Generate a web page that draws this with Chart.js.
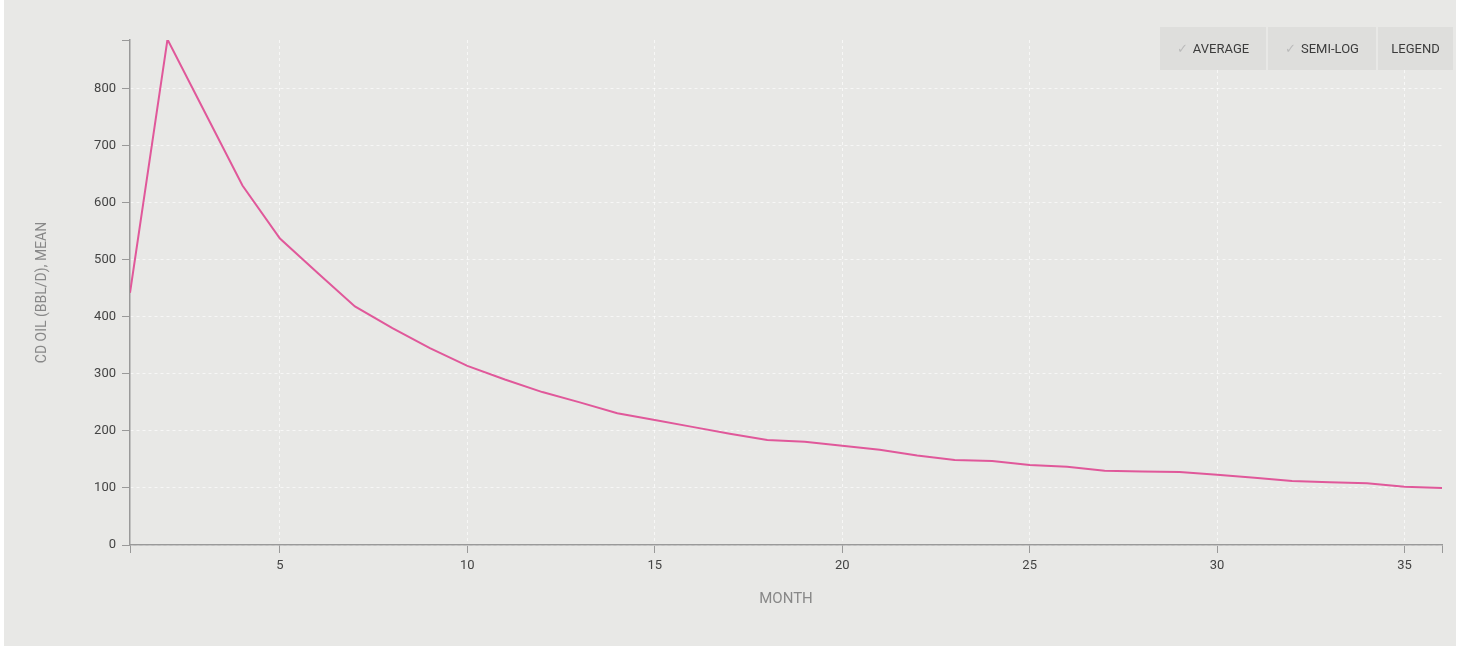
<!DOCTYPE html>
<html>
<head>
<meta charset="utf-8">
<script src="https://cdn.jsdelivr.net/npm/chart.js@4/dist/chart.umd.min.js"></script>
<style>
    body { margin: 0; background: #ffffff; font-family: Roboto, "Open Sans", sans-serif; }
    #wrap { position: absolute; left: 4px; top: 0; width: 1452px; height: 646px; background: #e8e8e6; }
    #chart-box { position: absolute; left: -4px; top: 0; width: 1461px; height: 652px; }
    #toolbar { position: absolute; left: 1156px; top: 27px; height: 43px; display: flex; }
    #toolbar div { display: flex; align-items: center; justify-content: center; font-size: 13px; color: #3c3c3c;
                   background: #dededc; margin-right: 2px; box-sizing: border-box; }
    #toolbar span { color: #bbb; margin-right: 5px; }
</style>
</head>
<body>
<div id="wrap">
    <div id="chart-box"><canvas id="oil-chart"></canvas></div>
    <div id="toolbar">
        <div style="width:106px"><span>&#10003;</span>AVERAGE</div>
        <div style="width:108px"><span>&#10003;</span>SEMI-LOG</div>
        <div style="width:75px">LEGEND</div>
    </div>
</div>
<script>
// Monthly mean oil rate
const months = [1, 2, 3, 4, 5, 6, 7, 8, 9, 10, 11, 12, 13, 14, 15, 16, 17, 18,
    19, 20, 21, 22, 23, 24, 25, 26, 27, 28, 29, 30, 31, 32, 33, 34, 35, 36];
const oilMean = [442, 886, 758, 630, 537, 477, 418, 380, 345, 314, 290, 268,
    250, 231, 219, 207, 195, 184, 181, 174, 167, 157, 149, 147,
    140, 137, 130, 129, 128, 123, 118, 112, 110, 108, 102, 100];
const xTicks = [1, 5, 10, 15, 20, 25, 30, 35, 36];
const yTicks = [0, 100, 200, 300, 400, 500, 600, 700, 800, 885];
const xEdge = [1, 36];
const yEdge = [885];

function initChart() {
    const ctx = document.getElementById('oil-chart').getContext('2d');
    new Chart(ctx, {
        type: 'line',
        data: {
            datasets: [{
                label: 'CD Oil (BBL/D), Mean',
                data: months.map((m, i) => ({ x: m, y: oilMean[i] })),
                borderColor: '#e0589a',
                borderWidth: 2,
                pointRadius: 0,
                tension: 0,
                fill: false
            }]
        },
        options: {
            responsive: false,
            animation: false,
            layout: { padding: { top: 40, right: 19, left: 0, bottom: 0 } },
            plugins: { legend: { display: false }, tooltip: { enabled: false } },
            scales: {
                x: {
                    type: 'linear',
                    min: 1,
                    max: 36,
                    afterBuildTicks: (s) => { s.ticks = xTicks.map(v => ({ value: v })); },
                    afterFit: (s) => { s.height = 107; },
                    ticks: {
                        color: '#444',
                        font: { family: 'Roboto', size: 13 },
                        padding: 5,
                        maxRotation: 0,
                        autoSkip: false,
                        callback: (v) => xEdge.includes(v) ? '' : v
                    },
                    grid: {
                        color: (c) => xEdge.includes(c.tick && c.tick.value) ? 'rgba(0,0,0,0)' : 'rgba(255,255,255,0.65)',
                        tickColor: '#999',
                        tickLength: 8,
                        lineWidth: 1
                    },
                    border: { color: '#999', width: 1.5, dash: [3, 3] },
                    title: {
                        display: true,
                        text: 'MONTH',
                        color: '#888',
                        font: { family: 'Roboto', size: 15 },
                        padding: { top: 0, bottom: 44 }
                    }
                },
                y: {
                    min: 0,
                    max: 885,
                    afterBuildTicks: (s) => { s.ticks = yTicks.map(v => ({ value: v })); },
                    afterFit: (s) => { s.width = 130; },
                    ticks: {
                        color: '#444',
                        font: { family: 'Roboto', size: 13 },
                        padding: 6,
                        callback: (v) => yEdge.includes(v) ? '' : v
                    },
                    grid: {
                        color: (c) => yEdge.includes(c.tick && c.tick.value) ? 'rgba(0,0,0,0)' : 'rgba(255,255,255,0.65)',
                        tickColor: '#999',
                        tickLength: 8,
                        lineWidth: 1
                    },
                    border: { color: '#999', width: 1.5, dash: [3, 3] },
                    title: {
                        display: true,
                        text: 'CD OIL (BBL/D), MEAN',
                        color: '#888',
                        font: { family: 'Roboto', size: 14 },
                        padding: { top: 34, bottom: 0 }
                    }
                }
            }
        }
    });
}

window.addEventListener('DOMContentLoaded', () => {
    const c = document.getElementById('oil-chart');
    c.width = 1461;
    c.height = 652;
    initChart();
});
</script>
</body>
</html>
